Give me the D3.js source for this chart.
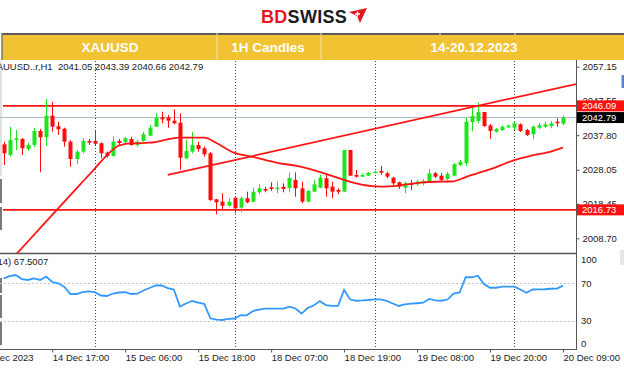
<!DOCTYPE html>
<meta charset="utf-8">
<head>
	<style type="text/css">
		body { margin: 0; background: #fff; }
		svg { display: block; font-family: "Liberation Sans", Arial, sans-serif; }
		.small { font-size: 9.5px; fill: #1a1a1a; }
		.head { font-size: 13.5px; font-weight: bold; fill: #fff; }
	</style>
	<title>XAUUSD 1H Candles</title>
</head>
<svg width="624" height="373" id="svg1"></svg>
<script src="https://d3js.org/d3.v7.min.js"></script>
<script>
	// ---- data ----
	const symbolLabel = "XAUUSD..r,H1";
	const headerTexts = ["XAUUSD", "1H Candles", "14-20.12.2023"];

	const opens = [
		2035.24, 2032.22, 2036.54, 2036.74, 2033.92, 2035.05, 2039.00, 2037.22, 2043.32, 2040.33,
		2039.65, 2035.98, 2031.09, 2033.16, 2036.18, 2036.18, 2035.53, 2032.87, 2031.94, 2036.18,
		2035.81, 2036.74, 2035.05, 2036.18, 2037.67, 2040.21, 2042.87, 2042.87, 2041.91, 2041.34,
		2031.29, 2033.16, 2035.05, 2034.12, 2032.70, 2019.72, 2019.04, 2017.91, 2020.17, 2017.35,
		2020.00, 2019.04, 2021.69, 2022.63, 2023.11, 2022.54, 2023.27, 2022.91, 2025.17, 2022.82,
		2019.04, 2021.86, 2022.99, 2025.65, 2023.27, 2022.34, 2021.86, 2033.63, 2026.58, 2026.10,
		2026.38, 2027.23, 2027.71, 2027.06, 2025.82, 2024.52, 2022.99, 2024.23, 2023.95, 2024.23,
		2024.88, 2027.06, 2026.38, 2025.45, 2026.38, 2029.40, 2029.90, 2041.54, 2041.82, 2044.36,
		2040.55, 2038.80, 2039.28, 2040.04, 2039.93, 2040.89, 2039.28, 2038.07, 2039.93, 2040.21,
		2040.41, 2041.62, 2041.05
	];
	const highs = [
		2035.98, 2040.21, 2039.28, 2037.02, 2035.61, 2039.85, 2039.56, 2048.03, 2047.27, 2041.62,
		2039.93, 2036.46, 2033.63, 2036.94, 2036.74, 2039.00, 2035.81, 2033.16, 2037.39, 2036.74,
		2037.39, 2037.39, 2036.46, 2038.80, 2040.69, 2044.00, 2044.45, 2043.52, 2045.12, 2044.00,
		2036.46, 2038.80, 2035.98, 2034.57, 2033.07, 2019.80, 2021.41, 2020.00, 2020.17, 2020.45,
		2021.86, 2022.99, 2023.95, 2023.27, 2024.52, 2024.69, 2024.23, 2027.23, 2027.34, 2024.69,
		2022.34, 2025.17, 2026.58, 2027.06, 2024.69, 2022.82, 2033.63, 2033.63, 2027.99, 2027.06,
		2027.42, 2027.79, 2029.12, 2027.51, 2026.10, 2024.69, 2024.69, 2025.17, 2025.17, 2025.45,
		2028.27, 2027.42, 2027.14, 2027.42, 2029.97, 2030.81, 2042.67, 2045.49, 2047.04, 2044.36,
		2040.97, 2039.85, 2040.55, 2040.78, 2041.62, 2041.17, 2039.56, 2040.50, 2041.26, 2041.54,
		2041.82, 2042.58, 2043.39
	];
	const lows = [
		2029.40, 2031.74, 2033.63, 2032.22, 2033.35, 2034.48, 2027.34, 2034.76, 2038.80, 2037.87,
		2034.57, 2028.92, 2029.60, 2032.70, 2035.05, 2035.05, 2031.29, 2031.46, 2031.74, 2035.05,
		2035.53, 2034.85, 2034.57, 2035.98, 2037.59, 2040.13, 2041.17, 2039.93, 2040.90, 2027.99,
		2031.09, 2032.70, 2033.16, 2031.74, 2019.24, 2015.48, 2016.98, 2017.63, 2015.76, 2016.05,
		2018.59, 2018.87, 2021.13, 2021.69, 2022.06, 2021.41, 2021.69, 2021.69, 2020.45, 2018.59,
		2018.87, 2021.69, 2022.82, 2020.45, 2020.00, 2021.13, 2021.78, 2026.30, 2025.82, 2026.01,
		2026.30, 2027.06, 2026.58, 2025.65, 2023.75, 2022.63, 2021.41, 2022.34, 2023.47, 2023.75,
		2024.52, 2025.73, 2024.88, 2025.17, 2026.30, 2029.12, 2029.12, 2039.00, 2041.26, 2040.13,
		2036.74, 2038.58, 2039.00, 2039.85, 2039.28, 2038.72, 2037.59, 2036.74, 2039.56, 2039.85,
		2039.76, 2040.21, 2040.66
	];
	const closes = [
		2032.70, 2036.46, 2036.94, 2034.12, 2035.05, 2039.00, 2037.22, 2043.32, 2040.21, 2039.48,
		2035.98, 2031.09, 2033.16, 2036.18, 2035.70, 2035.41, 2032.70, 2031.94, 2035.98, 2035.61,
		2036.94, 2035.05, 2035.98, 2038.07, 2039.93, 2042.75, 2042.30, 2041.91, 2041.17, 2031.46,
		2033.35, 2035.05, 2033.92, 2032.42, 2019.52, 2018.87, 2017.91, 2019.04, 2017.18, 2020.00,
		2018.87, 2021.86, 2022.82, 2022.15, 2022.63, 2022.99, 2022.63, 2025.73, 2022.82, 2019.04,
		2022.06, 2023.95, 2025.82, 2022.82, 2021.86, 2021.86, 2033.63, 2026.38, 2026.10, 2026.58,
		2027.23, 2027.51, 2027.23, 2026.10, 2024.23, 2023.27, 2024.23, 2023.75, 2024.69, 2024.88,
		2027.06, 2026.10, 2025.17, 2026.86, 2029.60, 2030.33, 2041.62, 2043.23, 2044.36, 2040.41,
		2039.00, 2039.56, 2040.21, 2040.50, 2041.17, 2039.00, 2037.87, 2040.21, 2040.69, 2040.89,
		2041.17, 2041.17, 2042.79
	];

	// moving average, read at some bars
	const maBars = [0, 4, 8, 12, 15, 17, 19, 21, 24, 29, 33, 35, 38, 41, 45, 48, 53, 56, 58, 62, 65, 69, 72, 74, 76, 78, 81, 84, 87, 90, 92];
	const maValues = [2000.3, 2007.8, 2015.3, 2022.8, 2028.4, 2032.2, 2034.9, 2035.5, 2035.7, 2037.1, 2037.1, 2035.6, 2032.8, 2031.7, 2030.0, 2029.2, 2026.9, 2025.2, 2024.2, 2023.3, 2023.6, 2024.5, 2024.7, 2024.8, 2026.0, 2027.1, 2028.8, 2030.8, 2032.1, 2033.2, 2034.3];

	// RSI(14), one value per bar
	const rsiValues = [
		75.3, 77.5, 78.8, 74.5, 73.5, 75.1, 73.5, 77.0, 71.3, 69.9,
		66.0, 58.5, 58.5, 60.6, 61.2, 60.4, 56.9, 56.4, 59.0, 60.1,
		60.6, 58.5, 58.8, 62.2, 64.9, 67.6, 67.6, 64.9, 63.3, 45.1,
		48.3, 51.0, 49.2, 48.0, 32.5, 31.2, 30.7, 31.8, 32.3, 36.0,
		35.7, 40.3, 41.9, 42.8, 42.8, 42.8, 42.8, 44.9, 43.0, 37.6,
		43.5, 46.2, 51.0, 46.7, 45.7, 45.7, 62.8, 52.6, 51.3, 51.6,
		52.1, 52.8, 52.8, 51.2, 48.3, 45.7, 47.3, 48.1, 48.6, 49.2,
		53.2, 51.6, 51.3, 52.6, 59.0, 60.1, 76.4, 76.4, 78.1, 69.2,
		65.2, 65.2, 66.3, 66.3, 66.3, 63.3, 59.9, 63.3, 63.5, 63.6,
		64.1, 64.2, 67.5007
	];

	const trendBars = [27, 92];
	const trendPrices = [2026.6, 2051.44];
	const levelPrices = [2046.09, 2016.73];
	const bidPrice = 2042.79;

	const priceTicks = [2057.15, 2047.55, 2037.80, 2028.05, 2018.45, 2008.70];
	const rsiTicks = [100, 70, 30, 0];
	const rsiGrid = [70, 30];
	const timeTickBars = [-4, 8, 20, 32, 44, 56, 68, 80, 92];
	const timeTickLabels = ["14 Dec 2023", "14 Dec 17:00", "15 Dec 06:00", "15 Dec 18:00", "18 Dec 07:00",
		"18 Dec 19:00", "19 Dec 08:00", "19 Dec 20:00", "20 Dec 09:00"];
	const dayStartBars = [15, 38, 61, 84];

	// ---- layout ----
	const svg1 = d3.select('#svg1');
	const width = +svg1.attr('width');
	const height = +svg1.attr('height');

	const plotRight = 576;
	const mainTop = 60, mainBottom = 253;
	const rsiTop = 254, rsiBottom = 349;

	const bull = '#1fe31f', bear = '#ff0d0d', lineRed = '#ff1414';

	const xScale = d3.scaleLinear().domain([0, 92]).range([3.6, 563]);
	const yScale = d3.scaleLinear().domain([2008.70, 2057.15]).range([238.3, 66.7]);
	const rsiScale = d3.scaleLinear().domain([0, 100]).range([348.7, 255.2]);

	svg1.append('rect').attr('width', width).attr('height', height).attr('fill', '#fff');

	const defs = svg1.append('defs');
	defs.append('clipPath').attr('id', 'clipMain')
		.append('rect').attr('x', 0).attr('y', mainTop).attr('width', plotRight).attr('height', mainBottom - mainTop);
	defs.append('clipPath').attr('id', 'clipRsi')
		.append('rect').attr('x', 0).attr('y', rsiTop).attr('width', plotRight).attr('height', rsiBottom - rsiTop);

	// logo
	const logo = svg1.append('text')
		.attr('x', 261).attr('y', 23)
		.attr('font-size', '18px').attr('font-weight', 'bold')
		.style('letter-spacing', '0.3px');
	logo.append('tspan').attr('fill', '#e3171d').text('BD');
	logo.append('tspan').attr('fill', '#1b1b1b').text('SWISS');
	svg1.append('path')
		.attr('d', 'M349,12 L367,8 L360,23 L357,16 Z')
		.attr('fill', '#e3171d');
	svg1.append('path')
		.attr('d', 'M357.5,11.5 v5 M355,14 h5')
		.attr('stroke', '#fff').attr('stroke-width', 1.3);

	// yellow header bar
	svg1.append('rect')
		.attr('x', 2).attr('y', 34).attr('width', width - 2).attr('height', 26)
		.attr('fill', '#f1c232');
	svg1.append('line')
		.attr('x1', 2).attr('x2', width).attr('y1', 34).attr('y2', 34)
		.attr('stroke', '#5a5a5a').attr('stroke-width', 2);
	[217, 321].forEach(x => {
		svg1.append('line')
			.attr('x1', x).attr('x2', x).attr('y1', 33).attr('y2', 60)
			.attr('stroke', '#f8e2a0').attr('stroke-width', 1);
	});
	[440, 515].forEach(x => {
		svg1.append('line')
			.attr('x1', x).attr('x2', x).attr('y1', 33).attr('y2', 35)
			.attr('stroke', '#ddd').attr('stroke-width', 1);
	});
	svg1.append('line')
		.attr('x1', 2).attr('x2', 2).attr('y1', 33).attr('y2', 60)
		.attr('stroke', '#777').attr('stroke-width', 1.5);
	const headerCenters = [110, 268, 474];
	svg1.selectAll('.head')
		.data(headerTexts)
		.enter().append('text')
		.attr('class', 'head')
		.attr('x', (d, i) => headerCenters[i])
		.attr('y', 52)
		.attr('text-anchor', 'middle')
		.text(d => d);

	// left edge frame marks
	svg1.append('rect').attr('x', 0).attr('y', 62).attr('width', 2).attr('height', 114).attr('fill', '#e2e2e2');
	[[179, 24], [207, 23], [278, 15], [295, 23], [322, 23]].forEach(s => {
		svg1.append('rect').attr('x', 0).attr('y', s[0]).attr('width', 2).attr('height', s[1]).attr('fill', '#7a7a7a');
	});
	svg1.append('rect').attr('x', 621.5).attr('y', 75).attr('width', 2.5).attr('height', 13).attr('fill', '#5b84d0');
	svg1.append('rect').attr('x', 620).attr('y', 250).attr('width', 4).attr('height', 15).attr('fill', '#e6e6e6');

	// day separators (both panels)
	svg1.selectAll('.daysep')
		.data(dayStartBars)
		.enter().append('line')
		.attr('class', 'daysep')
		.attr('x1', d => Math.round(xScale(d)) + 0.5)
		.attr('x2', d => Math.round(xScale(d)) + 0.5)
		.attr('y1', mainTop + 1).attr('y2', rsiBottom)
		.attr('stroke', '#444').attr('stroke-dasharray', '1,2');

	// main panel
	const gMain = svg1.append('g').attr('clip-path', 'url(#clipMain)');

	gMain.append('line')
		.attr('x1', 0).attr('x2', plotRight)
		.attr('y1', yScale(bidPrice)).attr('y2', yScale(bidPrice))
		.attr('stroke', '#a9b7cc').attr('stroke-width', 1);

	gMain.selectAll('.level')
		.data(levelPrices)
		.enter().append('line')
		.attr('class', 'level')
		.attr('x1', 3).attr('x2', plotRight)
		.attr('y1', d => yScale(d)).attr('y2', d => yScale(d))
		.attr('stroke', lineRed).attr('stroke-width', 1.7);

	const candles = opens.map((o, i) => ({ i: i, o: o, h: highs[i], l: lows[i], c: closes[i] }));

	gMain.selectAll('.wick')
		.data(candles)
		.enter().append('line')
		.attr('class', 'wick')
		.attr('x1', d => Math.round(xScale(d.i)) + 0.5)
		.attr('x2', d => Math.round(xScale(d.i)) + 0.5)
		.attr('y1', d => yScale(d.h))
		.attr('y2', d => yScale(d.l))
		.attr('stroke', d => d.c >= d.o ? bull : bear)
		.attr('stroke-width', 1);

	gMain.selectAll('.body')
		.data(candles)
		.enter().append('rect')
		.attr('class', 'body')
		.attr('x', d => Math.round(xScale(d.i)) - 1.5)
		.attr('y', d => yScale(Math.max(d.o, d.c)))
		.attr('width', 4)
		.attr('height', d => Math.max(1.5, Math.abs(yScale(d.o) - yScale(d.c))))
		.attr('fill', d => d.c >= d.o ? bull : bear);

	const maLine = d3.line()
		.x(d => xScale(d[0]))
		.y(d => yScale(d[1]))
		.curve(d3.curveMonotoneX);
	gMain.append('path')
		.datum(maBars.map((b, i) => [b, maValues[i]]))
		.attr('d', maLine)
		.attr('fill', 'none')
		.attr('stroke', lineRed)
		.attr('stroke-width', 1.8);

	// trend line, extended to the price axis
	const tx1 = xScale(trendBars[0]), ty1 = yScale(trendPrices[0]);
	const tx2 = xScale(trendBars[1]), ty2 = yScale(trendPrices[1]);
	const slope = (ty2 - ty1) / (tx2 - tx1);
	gMain.append('line')
		.attr('x1', tx1).attr('y1', ty1)
		.attr('x2', plotRight).attr('y2', ty1 + slope * (plotRight - tx1))
		.attr('stroke', lineRed).attr('stroke-width', 1.7);

	svg1.append('text')
		.attr('class', 'small')
		.attr('x', -9.7).attr('y', 69.5)
		.attr('xml:space', 'preserve')
		.text(symbolLabel + '  ' + [opens[92], highs[92], lows[92], closes[92]].map(d3.format('.2f')).join(' '));

	// RSI panel
	const gRsi = svg1.append('g').attr('clip-path', 'url(#clipRsi)');
	gRsi.selectAll('.grid')
		.data(rsiGrid)
		.enter().append('line')
		.attr('class', 'grid')
		.attr('x1', 0).attr('x2', plotRight)
		.attr('y1', d => Math.round(rsiScale(d)) + 0.5).attr('y2', d => Math.round(rsiScale(d)) + 0.5)
		.attr('stroke', '#c4c4c4').attr('stroke-dasharray', '2,2');

	gRsi.append('path')
		.datum(rsiValues)
		.attr('d', d3.line().x((d, i) => xScale(i)).y(d => rsiScale(d)))
		.attr('fill', 'none')
		.attr('stroke', '#3399ff')
		.attr('stroke-width', 1.8);

	svg1.append('text')
		.attr('class', 'small')
		.attr('x', -21.5).attr('y', 264.5)
		.text('RSI(14) ' + rsiValues[rsiValues.length - 1].toFixed(4));

	// panel frames
	svg1.append('line')
		.attr('x1', 0).attr('x2', plotRight).attr('y1', 253.5).attr('y2', 253.5)
		.attr('stroke', '#555').attr('stroke-width', 1.5);
	svg1.append('line')
		.attr('x1', 0).attr('x2', plotRight + 0.5).attr('y1', rsiBottom + 0.5).attr('y2', rsiBottom + 0.5)
		.attr('stroke', '#555');
	svg1.append('line')
		.attr('x1', plotRight + 0.5).attr('x2', plotRight + 0.5).attr('y1', mainTop).attr('y2', rsiBottom + 1)
		.attr('stroke', '#555');

	// price axis
	const yAxisG = svg1.append('g')
		.attr('transform', `translate(${plotRight + 0.5},0)`)
		.call(d3.axisRight(yScale).tickValues(priceTicks).tickFormat(d3.format('.2f')).tickSize(3).tickPadding(3));
	yAxisG.select('.domain').remove();
	yAxisG.selectAll('line').attr('stroke', '#555');
	yAxisG.selectAll('text').attr('class', 'small').attr('font-size', null).attr('font-family', null);

	// price boxes
	const boxes = levelPrices.map(p => ({ p: p, fill: '#ff1010' })).concat([{ p: bidPrice, fill: '#000' }]);
	const boxG = svg1.selectAll('.pbox')
		.data(boxes)
		.enter().append('g')
		.attr('class', 'pbox')
		.attr('transform', d => `translate(${plotRight + 1},${yScale(d.p)})`);
	boxG.append('rect')
		.attr('x', 0).attr('y', -5.5).attr('width', width - plotRight - 1).attr('height', 11)
		.attr('fill', d => d.fill);
	boxG.append('text')
		.attr('x', 5).attr('dy', '0.35em')
		.attr('font-size', '9.5px').attr('fill', '#fff')
		.text(d => d3.format('.2f')(d.p));

	// rsi axis
	svg1.selectAll('.rsitick')
		.data(rsiTicks)
		.enter().append('text')
		.attr('class', 'small rsitick')
		.attr('x', plotRight + 5)
		.attr('y', d => Math.min(Math.max(rsiScale(d), 260), 344))
		.attr('dy', '0.35em')
		.text(d => d);

	// time axis
	const xAxisG = svg1.append('g')
		.attr('transform', `translate(0,${rsiBottom + 0.5})`)
		.call(d3.axisBottom(xScale).tickValues(timeTickBars).tickFormat((d, i) => timeTickLabels[i]).tickSize(3).tickPadding(2));
	xAxisG.select('.domain').remove();
	xAxisG.selectAll('line').attr('stroke', '#555');
	xAxisG.selectAll('text')
		.attr('class', 'small')
		.attr('font-size', null).attr('font-family', null)
		.attr('text-anchor', 'start')
		.attr('y', 5);
</script>
